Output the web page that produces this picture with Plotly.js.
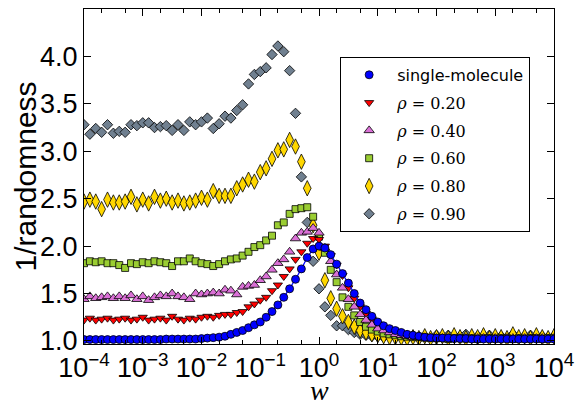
<!DOCTYPE html>
<html>
<head>
<meta charset="utf-8">
<script src="https://cdn.plot.ly/plotly-3.0.1.min.js"></script>
<style>html,body{margin:0;padding:0;background:#fff;}#chart{width:581px;height:400px;}</style>
</head>
<body>
<div id="chart"></div>
<script>
// log10(w) grid of the measurements
const logW = [-4.0,-3.9,-3.8,-3.7,-3.6,-3.5,-3.4,-3.3,-3.2,-3.1,
  -3.0,-2.9,-2.8,-2.7,-2.6,-2.5,-2.4,-2.3,-2.2,-2.1,
  -2.0,-1.9,-1.8,-1.7,-1.6,-1.5,-1.4,-1.3,-1.2,-1.1,
  -1.0,-0.9,-0.8,-0.7,-0.6,-0.5,-0.4,-0.3,-0.2,-0.1,
  0.0,0.1,0.2,0.3,0.4,0.5,0.6,0.7,0.8,0.9,
  1.0,1.1,1.2,1.3,1.4,1.5,1.6,1.7,1.8,1.9,
  2.0,2.1,2.2,2.3,2.4,2.5,2.6,2.7,2.8,2.9,
  3.0,3.1,3.2,3.3,3.4,3.5,3.6,3.7,3.8,3.9,4.0];
const w = logW.map(e => Math.pow(10, e));

const singleMolecule = [1.015,1.015,1.015,1.015,1.015,1.015,1.015,1.015,1.015,1.015,
  1.015,1.015,1.015,1.015,1.02,1.02,1.02,1.02,1.02,1.02,
  1.025,1.03,1.035,1.04,1.05,1.07,1.09,1.11,1.14,1.17,
  1.20,1.25,1.31,1.38,1.46,1.55,1.65,1.76,1.88,1.97,
  2.00,1.98,1.91,1.81,1.71,1.61,1.50,1.40,1.33,1.26,
  1.20,1.16,1.13,1.11,1.09,1.07,1.06,1.05,1.04,1.035,
  1.03,1.03,1.03,1.025,1.025,1.025,1.02,1.02,1.02,1.02,
  1.02,1.02,1.02,1.02,1.02,1.02,1.02,1.02,1.02,1.02,1.02];
const rho020 = [1.22,1.24,1.22,1.23,1.24,1.22,1.23,1.24,1.22,1.23,
  1.25,1.22,1.23,1.24,1.22,1.26,1.23,1.22,1.24,1.23,
  1.25,1.26,1.25,1.27,1.28,1.28,1.30,1.31,1.36,1.39,
  1.43,1.46,1.53,1.59,1.68,1.76,1.86,1.94,2.03,2.08,
  2.07,2.00,1.90,1.80,1.69,1.56,1.45,1.36,1.29,1.23,
  1.18,1.14,1.11,1.09,1.07,1.06,1.05,1.045,1.04,1.04,
  1.035,1.03,1.035,1.03,1.03,1.025,1.03,1.03,1.025,1.03,
  1.025,1.03,1.03,1.025,1.03,1.03,1.025,1.04,1.03,1.025,1.03];
const rho040 = [1.44,1.47,1.45,1.46,1.47,1.45,1.47,1.45,1.48,1.44,
  1.47,1.43,1.46,1.48,1.47,1.50,1.47,1.46,1.44,1.50,
  1.49,1.50,1.51,1.50,1.54,1.53,1.49,1.57,1.58,1.59,
  1.64,1.68,1.75,1.82,1.86,1.94,2.08,2.14,2.15,2.19,
  2.14,1.98,1.84,1.70,1.56,1.44,1.36,1.28,1.22,1.17,
  1.13,1.11,1.09,1.07,1.06,1.05,1.04,1.04,1.035,1.03,
  1.03,1.03,1.03,1.025,1.03,1.03,1.02,1.03,1.03,1.025,
  1.03,1.02,1.03,1.03,1.025,1.03,1.02,1.03,1.03,1.025,1.03];
const rho060 = [1.82,1.84,1.83,1.84,1.82,1.82,1.80,1.77,1.82,1.81,
  1.83,1.82,1.84,1.83,1.82,1.79,1.84,1.84,1.87,1.84,
  1.82,1.81,1.79,1.81,1.84,1.86,1.87,1.90,1.94,1.99,
  2.01,2.06,2.11,2.22,2.25,2.34,2.39,2.40,2.41,2.31,
  2.10,1.93,1.75,1.62,1.46,1.36,1.27,1.20,1.15,1.12,
  1.10,1.08,1.07,1.06,1.05,1.045,1.04,1.04,1.035,1.03,
  1.03,1.03,1.02,1.03,1.03,1.025,1.03,1.02,1.03,1.03,
  1.025,1.03,1.03,1.02,1.03,1.025,1.03,1.03,1.02,1.03,1.03];
const rho080 = [2.47,2.49,2.47,2.39,2.49,2.46,2.46,2.47,2.52,2.44,
  2.49,2.45,2.52,2.48,2.50,2.46,2.48,2.45,2.46,2.48,
  2.51,2.49,2.58,2.53,2.53,2.53,2.61,2.65,2.70,2.68,
  2.78,2.82,2.92,3.01,3.02,3.12,3.05,2.89,2.61,2.22,
  1.93,1.64,1.45,1.34,1.26,1.20,1.15,1.11,1.09,1.07,
  1.06,1.05,1.04,1.04,1.035,1.03,1.04,1.03,1.05,1.03,
  1.04,1.05,1.03,1.06,1.04,1.03,1.05,1.04,1.06,1.03,
  1.05,1.04,1.03,1.07,1.04,1.05,1.03,1.06,1.04,1.03,1.05];
const rho090 = [3.28,3.18,3.24,3.20,3.28,3.19,3.21,3.20,3.28,3.27,
  3.30,3.30,3.25,3.26,3.27,3.22,3.28,3.22,3.31,3.28,
  3.31,3.35,3.24,3.29,3.37,3.35,3.43,3.49,3.71,3.81,
  3.84,3.88,4.02,4.11,4.05,3.85,3.40,2.73,2.25,1.84,
  1.55,1.36,1.27,1.16,1.16,1.12,1.09,1.07,1.06,1.05,
  1.05,1.04,1.06,1.04,1.05,1.03,1.06,1.04,1.05,1.03,
  1.06,1.04,1.06,1.03,1.05,1.07,1.04,1.05,1.03,1.06,
  1.04,1.05,1.03,1.07,1.04,1.05,1.06,1.03,1.05,1.04,1.05];

const serif = "font-family:'DejaVu Serif', serif";
const legendNames = ['single-molecule',
  `<span style="${serif}"><i>ρ</i> = 0.20</span>`,
  `<span style="${serif}"><i>ρ</i> = 0.40</span>`,
  `<span style="${serif}"><i>ρ</i> = 0.60</span>`,
  `<span style="${serif}"><i>ρ</i> = 0.80</span>`,
  `<span style="${serif}"><i>ρ</i> = 0.90</span>`];
const xTickVals = [1e-4,1e-3,1e-2,1e-1,1e0,1e1,1e2,1e3,1e4];
const xTickText = ['10<sup>−4</sup>','10<sup>−3</sup>','10<sup>−2</sup>','10<sup>−1</sup>',
  '10<sup>0</sup>','10<sup>1</sup>','10<sup>2</sup>','10<sup>3</sup>','10<sup>4</sup>'];
const yTickVals = [1.0,1.5,2.0,2.5,3.0,3.5,4.0];
const xTitle = '<i>w</i>';
const yTitle = '1/randomness';

const edge = {color:'#000', width:0.8};
function pts(y, name, rank, symbol, size, color) {
  return {x:w, y:y, type:'scatter', mode:'markers', name:name, legendrank:rank,
    legendgroup:'g'+rank, marker:{symbol:symbol, size:size, color:color, line:edge}};
}
const traces = [
  pts(rho090, legendNames[5], 6, 'diamond', 8, '#708090'),
  pts(rho080, legendNames[4], 5, 'diamond-tall', 11, '#ffd700'),
  pts(rho060, legendNames[3], 4, 'square', 7, '#9acd32'),
  pts(rho020, legendNames[1], 2, 'triangle-down', 8, '#ff0000'),
  pts(rho040, legendNames[2], 3, 'triangle-up', 9, '#da70d6'),
  {x:w, y:singleMolecule, type:'scatter', mode:'lines', showlegend:false,
    line:{color:'#0000ff', width:1.2}, hoverinfo:'skip'},
  pts(singleMolecule, legendNames[0], 1, 'circle', 8, '#0000ff')
];

const layout = {
  width:581, height:400,
  margin:{l:84, r:27, t:9, b:56},
  paper_bgcolor:'#fff', plot_bgcolor:'#fff',
  font:{family:'Liberation Sans, Arial, sans-serif', color:'#000'},
  showlegend:true,
  legend:{x:0.545, y:0.857, xanchor:'left', yanchor:'top',
    bgcolor:'#fff', bordercolor:'#000', borderwidth:1,
    font:{size:16, family:'DejaVu Sans, sans-serif'},
    itemwidth:46, tracegroupgap:4, traceorder:'grouped'},
  xaxis:{type:'log', range:[-4,4], showline:true, linecolor:'#000', linewidth:1,
    mirror:'allticks', ticks:'inside', ticklen:7, tickcolor:'#000',
    tickvals:xTickVals, ticktext:xTickText, tickfont:{size:27},
    showgrid:false, zeroline:false,
    minor:{ticks:'inside', ticklen:4, tickcolor:'#000', showgrid:false}},
  yaxis:{range:[0.968,4.5], showline:true, linecolor:'#000', linewidth:1,
    mirror:'allticks', ticks:'inside', ticklen:7, tickcolor:'#000',
    tickvals:yTickVals, tickformat:'.1f', tickfont:{size:27},
    showgrid:false, zeroline:false},
  annotations:[
    {text:xTitle, xref:'paper', yref:'paper', x:0.5, y:-0.138, xanchor:'center', yanchor:'middle',
      showarrow:false, font:{size:28, family:'Liberation Serif, serif'}},
    {text:yTitle, xref:'paper', yref:'paper', x:-0.1255, y:0.5, xanchor:'center', yanchor:'middle',
      textangle:-90, showarrow:false, font:{size:30}}
  ]
};
Plotly.newPlot('chart', traces, layout, {displayModeBar:false, staticPlot:true});
</script>
</body>
</html>
